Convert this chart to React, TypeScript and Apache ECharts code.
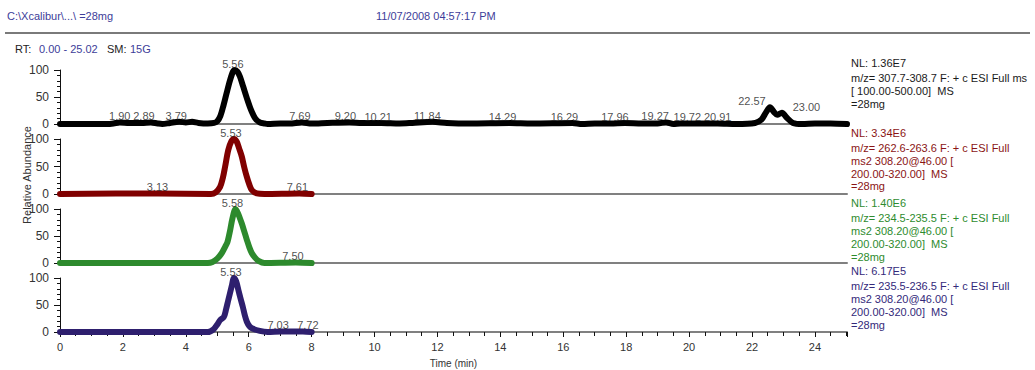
import React, { useEffect, useRef } from "react";
import * as echarts from "echarts";

// ---- Data ----
const blackTimes = [0, 0.5, 1.0, 1.5, 1.7, 1.9, 2.2, 2.6, 2.89, 3.1, 3.25, 3.5, 3.79, 4.0, 4.2, 4.4, 4.7, 4.9, 5.0, 5.1, 5.2, 5.3, 5.4, 5.5, 5.56, 5.64, 5.72, 5.82, 5.94, 6.06, 6.2, 6.35, 6.5, 6.6, 7.0, 7.3, 7.69, 8.0, 8.5, 9.2, 9.6, 10.21, 10.8, 11.2, 11.84, 12.3, 13.0, 14.29, 15.0, 16.29, 16.6, 17.0, 17.5, 17.96, 18.5, 19.0, 19.27, 19.5, 19.72, 20.3, 20.91, 21.5, 22.1, 22.3, 22.45, 22.57, 22.7, 22.8, 22.95, 23.1, 23.3, 23.6, 24.0, 24.5, 25.02];
const blackValues = [0, 0, 0, 0, 1, 3, 2, 2, 3, 1, 0, 2, 4, 3, 4, 2, 1, 2, 5, 15, 35, 58, 80, 97, 100, 97, 88, 70, 48, 28, 11, 3, 1, 0, 1, 1, 3, 1, 2, 3, 2, 2, 1, 2, 4, 2, 1, 2, 1, 2, 0, 1, 1, 2, 1, 1, 3, 0, 1, 1, 1, 0, 2, 8, 22, 31, 22, 17, 21, 12, 2, 0, 1, 1, 0];

const redTimes = [0, 3.13, 4.8, 4.95, 5.09, 5.18, 5.25, 5.35, 5.45, 5.53, 5.62, 5.7, 5.78, 5.86, 5.94, 6.02, 6.1, 6.26, 6.5, 7.61, 8.0];
const redValues = [0, 1, 0, 3, 13, 30, 50, 80, 96, 100, 95, 82, 68, 48, 31, 17, 7, 1, 0, 1, 0];

const greenTimes = [0, 4.7, 4.85, 5.0, 5.14, 5.25, 5.32, 5.4, 5.48, 5.58, 5.66, 5.78, 5.86, 5.94, 6.02, 6.1, 6.2, 6.31, 6.5, 7.5, 8.0];
const greenValues = [0, 0, 2, 8, 18, 30, 38, 58, 82, 100, 92, 73, 58, 43, 29, 18, 10, 4, 0, 1, 0];

const navyTimes = [0, 4.7, 4.88, 5.0, 5.09, 5.21, 5.28, 5.35, 5.46, 5.53, 5.6, 5.67, 5.74, 5.81, 5.88, 5.94, 6.02, 6.1, 6.35, 6.6, 7.03, 7.72, 8.0];
const navyValues = [0, 0, 5, 14, 22, 28, 42, 59, 85, 100, 94, 78, 62, 47, 30, 19, 11, 7, 2, 0, 1, 1, 0];

// peak labels: retention times and heights
const blackPeakTimes = [1.9, 2.89, 3.79, 5.56, 7.69, 9.2, 10.21, 11.84, 14.29, 16.29, 17.96, 19.27, 19.72, 20.91, 22.57, 23.0];
const blackPeakHeights = [3, 3, 4, 100, 3, 3, 2, 4, 2, 2, 2, 3, 1, 1, 31, 21];
const redPeakTimes = [3.13, 5.53, 7.61];
const redPeakHeights = [1, 100, 1];
const greenPeakTimes = [5.58, 7.5];
const greenPeakHeights = [100, 1];
const navyPeakTimes = [5.53, 7.03, 7.72];
const navyPeakHeights = [100, 1, 1];

const xTickLabels = ["0", "2", "4", "6", "8", "10", "12", "14", "16", "18", "20", "22", "24"];
const yTickLabels = ["0", "50", "100"];

const headerFile = "C:\\Xcalibur\\...\\ =28mg";
const headerDate = "11/07/2008 04:57:17 PM";
const rtRange = "0.00 - 25.02";
const smValue = "15G";

const nlTexts = ["NL: 1.36E7", "NL: 3.34E6", "NL: 1.40E6", "NL: 6.17E5"];
const filterTexts = [
  "m/z= 307.7-308.7 F: + c ESI Full ms\n[ 100.00-500.00]  MS\n=28mg",
  "m/z= 262.6-263.6 F: + c ESI Full\nms2 308.20@46.00 [\n200.00-320.00]  MS\n=28mg",
  "m/z= 234.5-235.5 F: + c ESI Full\nms2 308.20@46.00 [\n200.00-320.00]  MS\n=28mg",
  "m/z= 235.5-236.5 F: + c ESI Full\nms2 308.20@46.00 [\n200.00-320.00]  MS\n=28mg",
];

// ---- Styles (not data) ----
const FONT = "'Liberation Sans', Arial, sans-serif";
const traceColors = ["#000000", "#800000", "#2d8a2d", "#2e1f6e"];
const textColors = ["#1a1a1a", "#8a1414", "#2e8b2e", "#33297a"];
const headerBlue = "#3d3d99";
const gridTops = [70, 139, 209, 278];
const gridHeights = [54, 55, 54, 54];
const nlY = [63, 132.5, 203, 271];
const labelShifts = [
  [0, -7, -3, -2, -2, -4, -3, -5, -7, -8, -10, -11, 7, 0, -18, 23],
  [-1, -3, -2],
  [-3, -3],
  [-3, -3, 5],
];

const zip = (a: number[], b: number[]) => a.map((t, i) => [t, b[i]]);

export default function App() {
  const ref = useRef<HTMLDivElement>(null);
  useEffect(() => {
    if (!ref.current) return;
    const chart = echarts.init(ref.current, undefined, { renderer: "svg" });
    const traces = [
      zip(blackTimes, blackValues),
      zip(redTimes, redValues),
      zip(greenTimes, greenValues),
      zip(navyTimes, navyValues),
    ];
    const peaks = [
      zip(blackPeakTimes, blackPeakHeights),
      zip(redPeakTimes, redPeakHeights),
      zip(greenPeakTimes, greenPeakHeights),
      zip(navyPeakTimes, navyPeakHeights),
    ];

    const grids = gridTops.map((top, i) => ({ left: 60, width: 787, top, height: gridHeights[i] }));
    const xAxes = gridTops.map((_, i) => {
      const bottom = i === 3;
      return {
        type: "value",
        gridIndex: i,
        min: 0,
        max: 25.02,
        interval: 2,
        axisLine: { show: true, onZero: false, lineStyle: { color: "#808080", width: 2 } },
        axisTick: { show: bottom, length: 5, lineStyle: { color: "#111", width: 1 } },
        minorTick: { show: bottom, splitNumber: 4, length: 4, lineStyle: { color: "#111", width: 1 } },
        axisLabel: {
          show: bottom,
          showMaxLabel: false,
          fontFamily: FONT,
          fontSize: 11,
          color: "#333",
          margin: 9,
          formatter: (v: number) => {
            const s = String(Math.round(v));
            return xTickLabels.includes(s) && Math.abs(v - Math.round(v)) < 1e-6 ? s : "";
          },
        },
        splitLine: { show: false },
        name: bottom ? "Time (min)" : "",
        nameLocation: "middle",
        nameGap: 26,
        nameTextStyle: { fontFamily: FONT, fontSize: 10, color: "#333" },
      };
    });
    const yAxes = gridTops.map((_, i) => ({
      type: "value",
      gridIndex: i,
      min: 0,
      max: 100,
      interval: 50,
      axisLine: { show: true, lineStyle: { color: "#111", width: 1 } },
      axisTick: { show: true, length: 6, lineStyle: { color: "#111" } },
      minorTick: { show: true, splitNumber: 5, length: 3, lineStyle: { color: "#111" } },
      axisLabel: {
        fontFamily: FONT,
        fontSize: 12,
        color: "#333",
        margin: 11,
        formatter: (v: number) => (yTickLabels.includes(String(v)) ? String(v) : ""),
      },
      splitLine: { show: false },
    }));

    const series: any[] = [];
    traces.forEach((d, i) => {
      series.push({
        type: "line",
        xAxisIndex: i,
        yAxisIndex: i,
        data: d,
        symbol: "none",
        smooth: 0.3,
        clip: false,
        lineStyle: { color: traceColors[i], width: 6, cap: "round", join: "round" },
        z: 2,
      });
      series.push({
        type: "scatter",
        xAxisIndex: i,
        yAxisIndex: i,
        symbolSize: 1,
        itemStyle: { color: "rgba(0,0,0,0)" },
        silent: true,
        z: 3,
        data: peaks[i].map((p, j) => ({
          value: p,
          label: { offset: [labelShifts[i][j] || 0, 0], color: "#222" },
        })),
        label: {
          show: true,
          position: "top",
          distance: 0,
          fontFamily: FONT,
          fontSize: 11,
          color: "#222",
          textBorderWidth: 0,
          formatter: (p: any) => Number(p.value[0]).toFixed(2),
        },
      });
    });

    const graphic: any[] = [
      { type: "text", x: 7, y: 16, style: { text: headerFile, fill: headerBlue, font: `11px ${FONT}`, verticalAlign: "middle" } },
      { type: "text", x: 376, y: 16, style: { text: headerDate, fill: headerBlue, font: `11px ${FONT}`, verticalAlign: "middle" } },
      { type: "line", shape: { x1: 5, y1: 33, x2: 1030, y2: 33 }, style: { stroke: "#7a7a7a", lineWidth: 2 } },
      { type: "text", x: 15, y: 49, style: { text: "RT:", fill: "#222", font: `11px ${FONT}`, verticalAlign: "middle" } },
      { type: "text", x: 39, y: 49, style: { text: rtRange, fill: headerBlue, font: `11px ${FONT}`, verticalAlign: "middle" } },
      { type: "text", x: 107, y: 49, style: { text: "SM:", fill: "#222", font: `11px ${FONT}`, verticalAlign: "middle" } },
      { type: "text", x: 130, y: 49, style: { text: smValue, fill: headerBlue, font: `11px ${FONT}`, verticalAlign: "middle" } },
      {
        type: "text",
        x: 27,
        y: 175,
        rotation: Math.PI / 2,
        style: { text: "Relative Abundance", fill: "#333", font: `11px ${FONT}`, align: "center", verticalAlign: "middle" },
      },
    ];
    nlTexts.forEach((t, i) => {
      graphic.push({ type: "text", x: 851, y: nlY[i], style: { text: t, fill: textColors[i], font: `11px ${FONT}`, verticalAlign: "middle" } });
      graphic.push({
        type: "text",
        x: 851,
        y: nlY[i] + 15.5 - 6.4,
        style: { text: filterTexts[i], fill: textColors[i], font: `11px ${FONT}`, lineHeight: 12.8, verticalAlign: "top" },
      });
    });

    chart.setOption({
      animation: false,
      backgroundColor: "#ffffff",
      grid: grids,
      xAxis: xAxes,
      yAxis: yAxes,
      series,
      graphic,
    });
    return () => chart.dispose();
  }, []);
  return <div ref={ref} style={{ position: "fixed", left: 0, top: 0, width: 1035, height: 370 }} />;
}
